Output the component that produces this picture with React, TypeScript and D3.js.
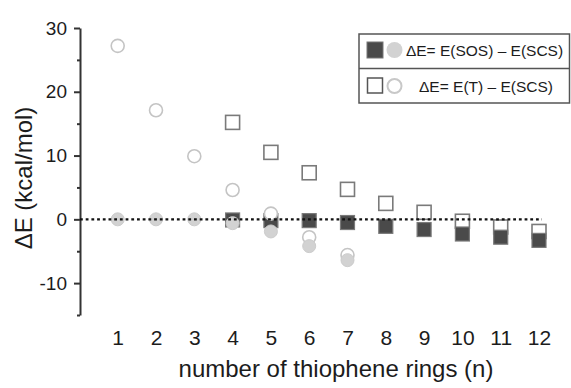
import React, { useEffect, useRef } from "react";
import * as d3 from "d3";

// values
const rings = [1, 2, 3, 4, 5, 6, 7, 8, 9, 10, 11, 12];
const yMajor = [-10, 0, 10, 20, 30];
const yMinor = [-15, -5, 5, 15, 25];

const squareRings = [4, 5, 6, 7, 8, 9, 10, 11, 12];
const circleRings = [1, 2, 3, 4, 5, 6, 7];

const sosSquares = [-0.1, -0.2, -0.2, -0.5, -1.1, -1.6, -2.3, -2.8, -3.3];
const sosCircles = [0, 0, 0, -0.6, -1.9, -4.2, -6.4];
const tSquares = [15.2, 10.5, 7.3, 4.7, 2.5, 1.1, -0.3, -1.2, -1.9];
const tCircles = [27.2, 17.1, 9.9, 4.6, 0.9, -2.8, -5.6];

const legendLabels = ["\u0394E= E(SOS) \u2013 E(SCS)", "\u0394E= E(T) \u2013 E(SCS)"];

const W = 571;
const H = 388;
const font = "Arial, 'Liberation Sans', Helvetica, sans-serif";
const ink = "#1c1c1c";

const SQ = 14;
const R = 6.5;

const App = () => {
  const xAxisRef = useRef<SVGGElement>(null);
  const yAxisRef = useRef<SVGGElement>(null);
  const yMinorRef = useRef<SVGGElement>(null);

  const x = d3.scaleLinear().domain([1, 12]).range([117.7, 539]);
  const y = d3.scaleLinear().domain([-15, 30]).range([315, 28]);
  const axisX = 80;

  useEffect(() => {
    // x tick labels only, no line
    const xAxis = d3
      .axisBottom(x)
      .tickValues(rings)
      .tickSize(0)
      .tickPadding(3)
      .tickFormat((d) => String(d));
    const gx = d3.select(xAxisRef.current!).call(xAxis as any);
    gx.select(".domain").remove();
    gx.selectAll("text")
      .attr("font-size", 21)
      .attr("font-family", font)
      .attr("fill", ink);

    // y axis major
    const yAxis = d3
      .axisLeft(y)
      .tickValues(yMajor)
      .tickSize(6)
      .tickSizeOuter(0)
      .tickPadding(7)
      .tickFormat((d) => String(d));
    const gy = d3.select(yAxisRef.current!).call(yAxis as any);
    gy.select(".domain").attr("stroke", "#333").attr("stroke-width", 2);
    gy.selectAll(".tick line").attr("stroke", "#333").attr("stroke-width", 2);
    gy.selectAll("text")
      .attr("font-size", 19)
      .attr("font-family", font)
      .attr("fill", ink);

    // y axis minor ticks
    const yMinorAxis = d3.axisLeft(y).tickValues(yMinor).tickSize(3).tickFormat(() => "");
    const gm = d3.select(yMinorRef.current!).call(yMinorAxis as any);
    gm.select(".domain").remove();
    gm.selectAll(".tick line").attr("stroke", "#333").attr("stroke-width", 2);
  }, []);

  return (
    <svg
      width={W}
      height={H}
      style={{ position: "absolute", left: 0, top: 0, background: "#fff" }}
    >
      <g ref={xAxisRef} transform={`translate(0, 327)`} />
      <g ref={yMinorRef} transform={`translate(${axisX}, 0)`} />
      <g ref={yAxisRef} transform={`translate(${axisX}, 0)`} />

      {/* open squares: E(T) - E(SCS) */}
      {tSquares.map((v, i) => (
        <rect
          key={"ts" + i}
          x={x(squareRings[i]) - SQ / 2}
          y={y(v) - SQ / 2}
          width={SQ}
          height={SQ}
          fill="#fff"
          stroke="#7a7a7a"
          strokeWidth={1.6}
        />
      ))}
      {/* filled squares: E(SOS) - E(SCS) */}
      {sosSquares.map((v, i) => (
        <rect
          key={"ss" + i}
          x={x(squareRings[i]) - SQ / 2}
          y={y(v) - SQ / 2}
          width={SQ}
          height={SQ}
          fill="#4a4a4a"
          stroke="#7a7a7a"
          strokeWidth={1.2}
        />
      ))}
      {/* open circles */}
      {tCircles.map((v, i) => (
        <circle
          key={"tc" + i}
          cx={x(circleRings[i])}
          cy={y(v)}
          r={R}
          fill="#fff"
          stroke="#c4c4c4"
          strokeWidth={1.6}
        />
      ))}
      {/* filled circles */}
      {sosCircles.map((v, i) => (
        <circle
          key={"sc" + i}
          cx={x(circleRings[i])}
          cy={y(v)}
          r={R}
          fill="#d2d2d2"
          stroke="#cccccc"
          strokeWidth={1}
        />
      ))}

      {/* zero reference line */}
      <line
        x1={axisX}
        x2={542}
        y1={y(0)}
        y2={y(0)}
        stroke="#111"
        strokeWidth={2.4}
        strokeDasharray="2.8 2.9"
      />

      {/* axis titles */}
      <text
        x={336}
        y={377}
        textAnchor="middle"
        fontSize={24}
        fontFamily={font}
        fill={ink}
      >
        number of thiophene rings (n)
      </text>
      <text
        transform={`translate(32, 178) rotate(-90)`}
        textAnchor="middle"
        fontSize={24}
        fontFamily={font}
        fill={ink}
      >
        ΔE (kcal/mol)
      </text>

      {/* legend */}
      <g>
        <rect x={359} y={34} width={210.5} height={69} fill="#fff" stroke="#555" strokeWidth={1.5} />
        <line x1={359} x2={569.5} y1={68.5} y2={68.5} stroke="#555" strokeWidth={1.5} />
        <rect x={367} y={42} width={16} height={16} fill="#4a4a4a" stroke="#777" strokeWidth={1} />
        <circle cx={394.5} cy={50} r={8} fill="#d2d2d2" />
        <text x={484.5} y={56} textAnchor="middle" fontSize={15.5} fontFamily={font} fill={ink}>
          {legendLabels[0]}
        </text>
        <rect x={367.5} y={78} width={15} height={15} fill="#fff" stroke="#555" strokeWidth={1.5} />
        <circle cx={394.5} cy={86} r={7} fill="#fff" stroke="#c8c8c8" strokeWidth={2} />
        <text x={486} y={91.5} textAnchor="middle" fontSize={15.5} fontFamily={font} fill={ink}>
          {legendLabels[1]}
        </text>
      </g>
    </svg>
  );
};

export default App;
